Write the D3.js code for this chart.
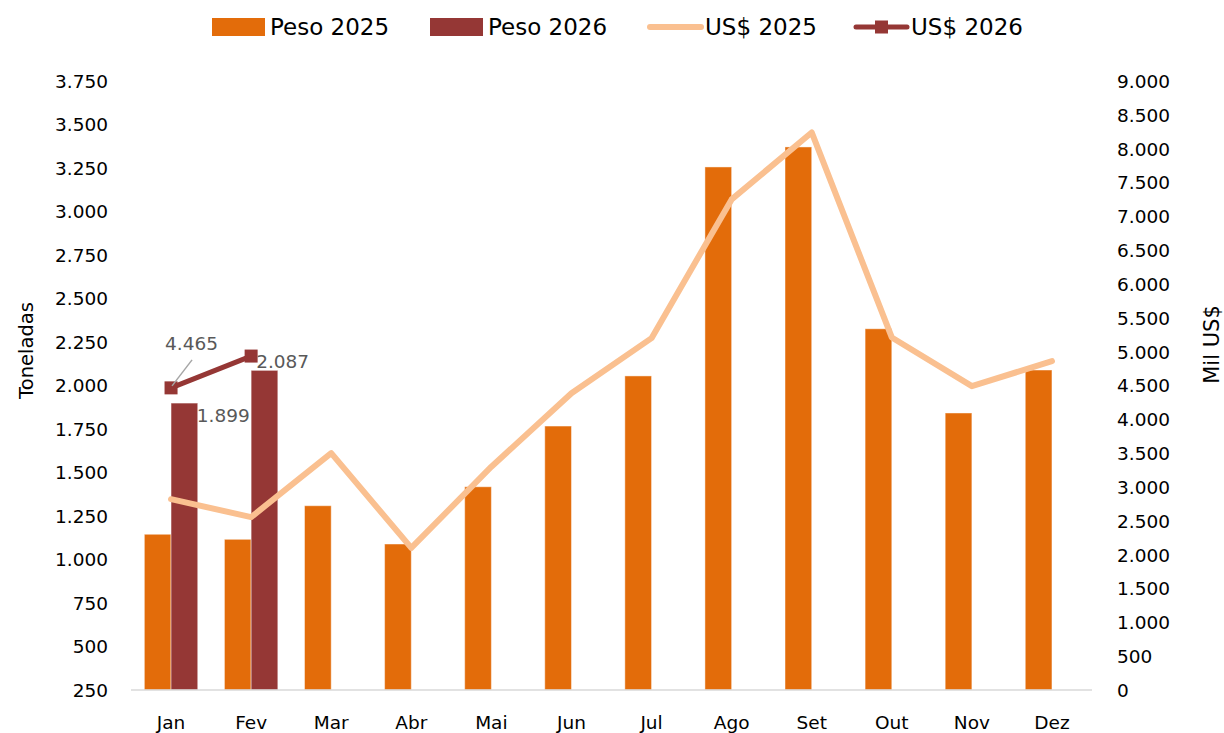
<!DOCTYPE html>
<html>
<head>
<meta charset="utf-8">
<script src="https://cdn.jsdelivr.net/npm/d3@7"></script>
<style>
  body { margin: 0; background: #fff; }
  svg { display: block; font-family: "DejaVu Sans", sans-serif; }
</style>
</head>
<body>
<div id="chart"></div>
<script>
// data
const months = ["Jan","Fev","Mar","Abr","Mai","Jun","Jul","Ago","Set","Out","Nov","Dez"];
const peso2025 = [1145, 1116, 1309, 1089, 1418, 1767, 2055, 3256, 3371, 2326, 1842, 2089];
const peso2026 = [1899, 2087];
const usd2025 = [2820, 2555, 3500, 2100, 3300, 4385, 5200, 7250, 8240, 5210, 4490, 4860];
const usd2026 = [4465, 4935];
const leftTicks = d3.range(250, 3751, 250);
const rightTicks = d3.range(0, 9001, 500);

const width = 1224, height = 733;
const margin = {top: 81, left: 131, right: 132, bottom: 43};

const C_P25 = "#e36c0a", C_P26 = "#953735", C_U25 = "#fac090", C_U26 = "#953735";

const fmt = d3.formatLocale({decimal: ",", thousands: ".", grouping: [3], currency: ["", ""]}).format(",d");

const svg = d3.select("#chart").append("svg")
  .attr("width", width)
  .attr("height", height);

const x = d3.scaleBand()
  .domain(months)
  .range([margin.left, width - margin.right])
  .paddingInner(1/3)
  .paddingOuter(1/6);

const xSub = d3.scaleBand()
  .domain(["p25", "p26"])
  .range([0, x.bandwidth()]);

const yL = d3.scaleLinear().domain([250, 3750]).range([height - margin.bottom, margin.top]);
const yR = d3.scaleLinear().domain([0, 9000]).range([height - margin.bottom, margin.top]);

// bars
svg.append("g").selectAll("rect")
  .data(peso2025)
  .join("rect")
    .attr("x", (d, i) => x(months[i]) + xSub("p25"))
    .attr("width", xSub.bandwidth())
    .attr("y", d => yL(d))
    .attr("height", d => yL(250) - yL(d))
    .attr("fill", C_P25)
    .attr("stroke", "#fff").attr("stroke-opacity", 0.45).attr("stroke-width", 1);

svg.append("g").selectAll("rect")
  .data(peso2026)
  .join("rect")
    .attr("x", (d, i) => x(months[i]) + xSub("p26"))
    .attr("width", xSub.bandwidth())
    .attr("y", d => yL(d))
    .attr("height", d => yL(250) - yL(d))
    .attr("fill", C_P26)
    .attr("stroke", "#fff").attr("stroke-opacity", 0.45).attr("stroke-width", 1);

// bottom axis line
svg.append("line")
  .attr("x1", margin.left).attr("x2", width - margin.right)
  .attr("y1", yL(250)).attr("y2", yL(250))
  .attr("stroke", "#d9d9d9").attr("stroke-width", 1.5);

// lines
const cx = i => x(months[i]) + x.bandwidth() / 2;
const line = d3.line().x((d, i) => cx(i)).y(d => yR(d));

svg.append("path")
  .datum(usd2025)
  .attr("d", line)
  .attr("fill", "none")
  .attr("stroke", C_U25)
  .attr("stroke-width", 6)
  .attr("stroke-linejoin", "round")
  .attr("stroke-linecap", "round");

svg.append("path")
  .datum(usd2026)
  .attr("d", line)
  .attr("fill", "none")
  .attr("stroke", C_U26)
  .attr("stroke-width", 5)
  .attr("stroke-linecap", "round");

svg.append("g").selectAll("rect")
  .data(usd2026)
  .join("rect")
    .attr("x", (d, i) => cx(i) - 6.5)
    .attr("y", d => yR(d) - 6.5)
    .attr("width", 13).attr("height", 13)
    .attr("fill", C_U26);

// axes
const axisL = svg.append("g")
  .attr("transform", `translate(${margin.left - 23},0)`)
  .call(d3.axisLeft(yL).tickValues(leftTicks).tickFormat(fmt).tickSize(0).tickPadding(0));
const axisR = svg.append("g")
  .attr("transform", `translate(${width - margin.right + 25},0)`)
  .call(d3.axisRight(yR).tickValues(rightTicks).tickFormat(fmt).tickSize(0).tickPadding(0));
const axisB = svg.append("g")
  .attr("transform", `translate(0,${yL(250) + 23})`)
  .call(d3.axisBottom(x).tickSize(0).tickPadding(0));

[axisL, axisR, axisB].forEach(a => {
  a.select(".domain").remove();
  a.selectAll("text")
    .attr("fill", "#000")
    .style("font-family", "DejaVu Sans")
    .style("font-size", "18.5px");
});
axisL.selectAll("text").attr("dy", "0.35em");
axisR.selectAll("text").attr("dy", "0.35em");
axisB.selectAll("text").attr("dy", "0.85em");

// axis titles
svg.append("text")
  .attr("transform", `translate(33,${(yL(250) + yL(3750)) / 2 - 35}) rotate(-90)`)
  .attr("text-anchor", "middle")
  .style("font-size", "19.5px")
  .text("Toneladas");

svg.append("text")
  .attr("transform", `translate(1219,${(yL(250) + yL(3750)) / 2 - 41}) rotate(-90)`)
  .attr("text-anchor", "middle")
  .style("font-size", "21px")
  .text("Mil US$");

// data labels
const lab = svg.append("g").attr("fill", "#595959").style("font-size", "18.5px");
lab.append("line")
  .attr("x1", cx(0) + 21).attr("y1", yR(usd2026[0]) - 28)
  .attr("x2", cx(0) + 1).attr("y2", yR(usd2026[0]) - 2)
  .attr("stroke", "#a6a6a6").attr("stroke-width", 1.5);
lab.append("text")
  .attr("x", cx(0) - 6).attr("y", yR(usd2026[0]) - 38)
  .text(fmt(usd2026[0]));
lab.append("text")
  .attr("x", x(months[0]) + x.bandwidth() - 1).attr("y", yL(peso2026[0]) + 19)
  .text(fmt(peso2026[0]));
lab.append("text")
  .attr("x", x(months[1]) + xSub("p26") + 5).attr("y", yL(peso2026[1]) - 2)
  .text(fmt(peso2026[1]));

// legend
const legend = svg.append("g").style("font-size", "23px");
const items = [
  {name: "Peso 2025", type: "bar", color: C_P25, x: 212},
  {name: "Peso 2026", type: "bar", color: C_P26, x: 430},
  {name: "US$ 2025", type: "line", color: C_U25, x: 647},
  {name: "US$ 2026", type: "marker", color: C_U26, x: 853}
];
items.forEach(it => {
  const g = legend.append("g").attr("transform", `translate(${it.x},0)`);
  if (it.type === "bar") {
    g.append("rect").attr("x", 0).attr("y", 18).attr("width", 53).attr("height", 18).attr("fill", it.color);
  } else {
    g.append("line").attr("x1", 3).attr("x2", 54).attr("y1", 27).attr("y2", 27)
      .attr("stroke", it.color).attr("stroke-width", it.type === "line" ? 6 : 5).attr("stroke-linecap", "round");
    if (it.type === "marker") {
      g.append("rect").attr("x", 22).attr("y", 20.5).attr("width", 13).attr("height", 13).attr("fill", it.color);
    }
  }
  g.append("text").attr("x", 58).attr("y", 35).attr("fill", "#000").text(it.name);
});
</script>
</body>
</html>
